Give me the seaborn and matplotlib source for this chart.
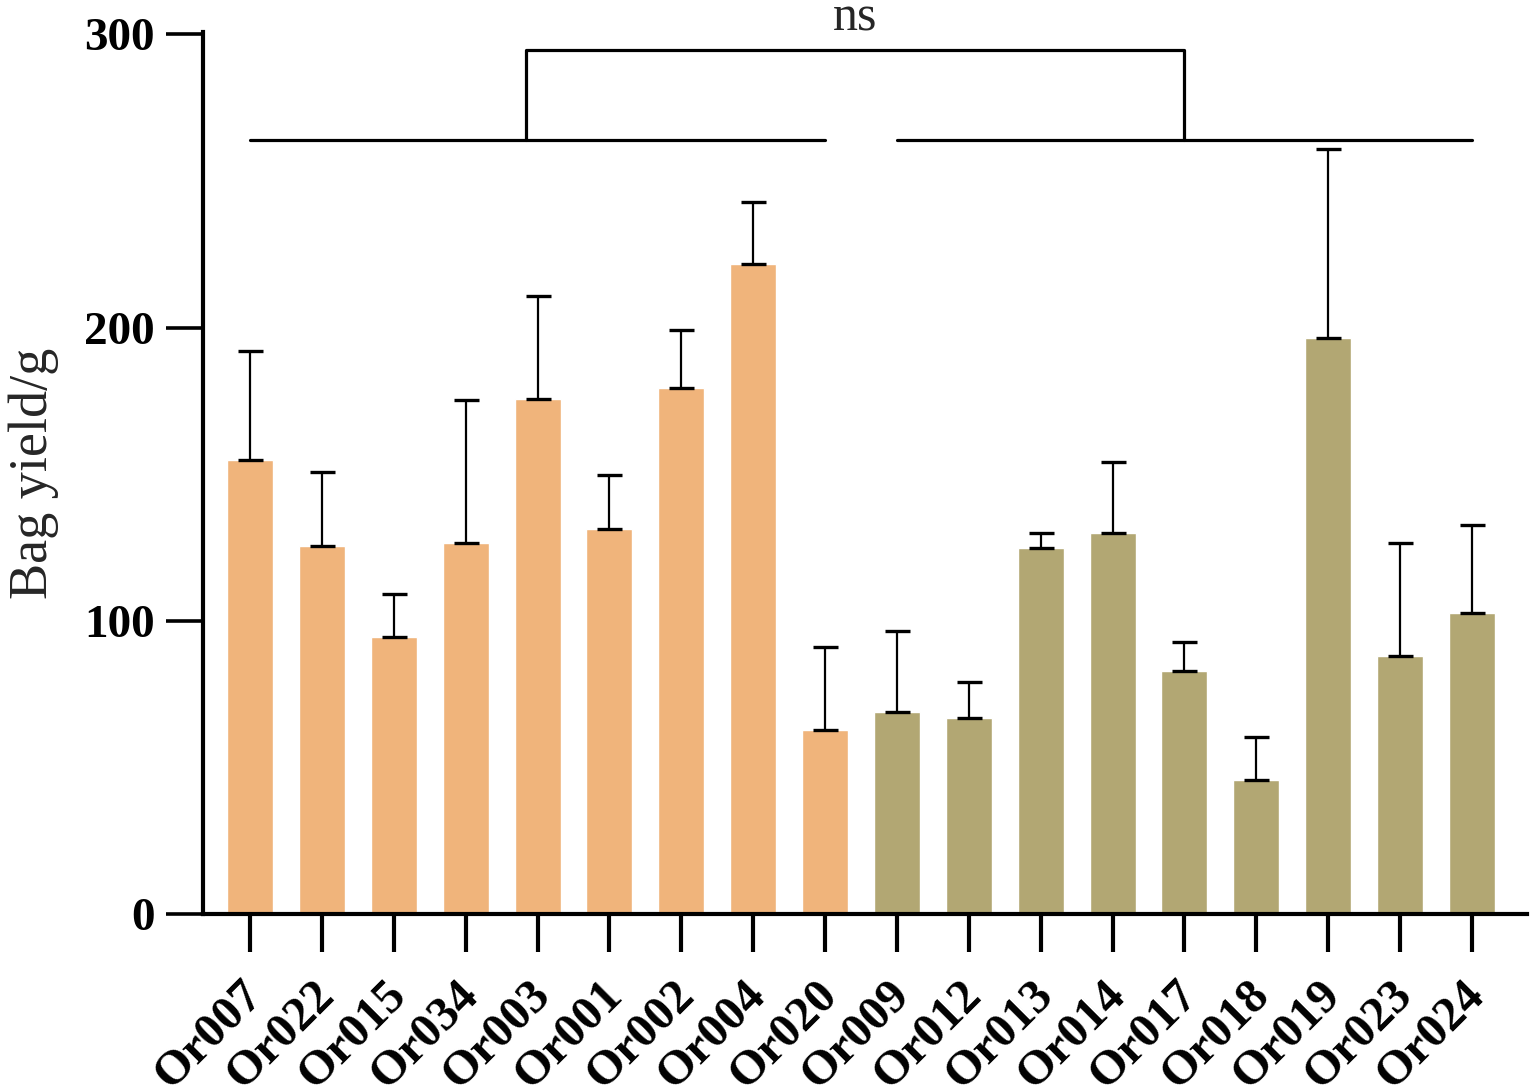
import numpy as np
import matplotlib
matplotlib.use('Agg')
import matplotlib.pyplot as plt
import matplotlib.transforms as mtransforms
import seaborn as sns

# strains, ordered as on the axis
strains = ['Or007', 'Or022', 'Or015', 'Or034', 'Or003', 'Or001', 'Or002', 'Or004', 'Or020',
           'Or009', 'Or012', 'Or013', 'Or014', 'Or017', 'Or018', 'Or019', 'Or023', 'Or024']
# mean bag yield (g) and upper error (SD)
yield_mean = [155.0, 125.6, 94.5, 126.6, 175.8, 131.4, 179.5, 221.8, 62.8,
              68.9, 66.9, 124.9, 130.0, 82.9, 45.7, 196.6, 88.0, 102.7]
yield_sd = [37.0, 25.3, 14.7, 48.8, 34.8, 18.4, 19.5, 20.9, 28.3,
            27.7, 12.3, 5.1, 24.3, 9.9, 14.7, 64.4, 38.6, 30.1]
group = ['A'] * 9 + ['B'] * 9
group_colors = {'A': '#F0B47B', 'B': '#B2A773'}
yticks = [0, 100, 200, 300]

sns.set_theme(style='white')
plt.rcParams['font.family'] = ['Liberation Serif', 'DejaVu Serif']

fig = plt.figure(figsize=(15.32, 10.91), dpi=100)
ax = fig.add_axes([0.1325, 0.1622, 0.8642, 0.8085])

sns.barplot(x=strains, y=yield_mean, hue=group, palette=group_colors, dodge=False,
            width=0.64, saturation=1, errorbar=None, legend=False, ax=ax)

# one-sided error bars (upper only)
xpos = np.arange(len(strains))
ax.errorbar(xpos, yield_mean, yerr=[np.zeros(len(yield_sd)), yield_sd], fmt='none',
            ecolor='black', elinewidth=1.6, capsize=9, capthick=2.4, zorder=3)

# significance bracket
lw = 2.3
y_low, y_high = 264.0, 294.6
xl, xr = 3.84, 13.0
ax.plot([0, 8], [y_low, y_low], color='black', lw=lw, clip_on=False)
ax.plot([9, 17], [y_low, y_low], color='black', lw=lw, clip_on=False)
ax.plot([xl, xl, xr, xr], [y_low, y_high, y_high, y_low], color='black', lw=lw, clip_on=False)
ax.text((xl + xr) / 2, 301.2, 'ns', ha='center', va='baseline', fontsize=36)

ax.set_xlim(-0.654, 17.765)
ax.set_ylim(0, 300.8)
ax.set_yticks(yticks)
ax.set_yticklabels([str(t) for t in yticks], fontsize=34, fontweight='bold')
ax.set_ylabel('Bag yield/g', fontsize=39, labelpad=18)

for side in ['top', 'right']:
    ax.spines[side].set_visible(False)
for side in ['left', 'bottom']:
    ax.spines[side].set_linewidth(3)
    ax.spines[side].set_color('black')

ax.tick_params(axis='y', direction='out', length=27, width=2.6, pad=8, colors='black', left=True)
ax.tick_params(axis='x', direction='out', length=27, width=3, pad=26, colors='black', bottom=True)
shift = mtransforms.ScaledTranslation(6 / 100, 0, fig.dpi_scale_trans)
for lab in ax.get_xticklabels():
    lab.set_rotation(45)
    lab.set_ha('right')
    lab.set_va('center')
    lab.set_rotation_mode('anchor')
    lab.set_fontsize(35)
    lab.set_fontweight('bold')
    lab.set_transform(lab.get_transform() + shift)

fig.savefig('out.png', dpi=100)
